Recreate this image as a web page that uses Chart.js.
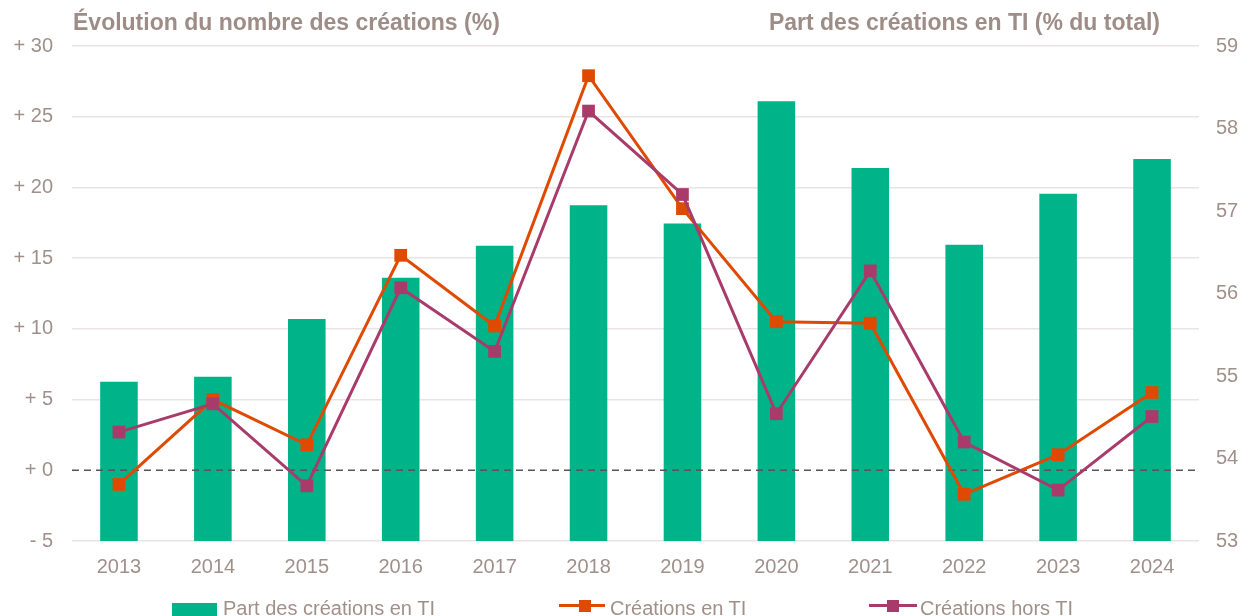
<!DOCTYPE html>
<html>
<head>
<meta charset="utf-8">
<script src="https://cdn.jsdelivr.net/npm/chart.js@4.4.0/dist/chart.umd.min.js"></script>
<style>
  body { margin: 0; background: #fff; font-family: "Liberation Sans", Arial, sans-serif; }
  #wrap { position: relative; width: 1244px; height: 616px; overflow: hidden; }
  #chart { position: absolute; left: 0; top: 0; }
  .ttl { position: absolute; top: 8px; font-weight: bold; font-size: 23px; line-height: 28px; color: #9E8C86; white-space: nowrap; }
  .lg { position: absolute; top: 598px; font-size: 20px; line-height: 20px; color: #A0908A; white-space: nowrap; }
  .mk { position: absolute; }
</style>
</head>
<body>
<div id="wrap">
  <canvas id="chart" width="1244" height="616"></canvas>
  <div class="ttl" style="left:73px">Évolution du nombre des créations (%)</div>
  <div class="ttl" style="right:84px">Part des créations en TI (% du total)</div>

  <div class="mk" style="left:172px;top:603px;width:45px;height:13px;background:#00B388"></div>
  <div class="lg" style="left:223px">Part des créations en TI</div>

  <div class="mk" style="left:559px;top:604px;width:46px;height:3px;background:#DF4A00"></div>
  <div class="mk" style="left:579px;top:600px;width:12px;height:12px;background:#DF4A00"></div>
  <div class="lg" style="left:610px">Créations en TI</div>

  <div class="mk" style="left:869px;top:604px;width:48px;height:3px;background:#A93B6B"></div>
  <div class="mk" style="left:887px;top:600px;width:12px;height:12px;background:#A93B6B"></div>
  <div class="lg" style="left:920px">Créations hors TI</div>
</div>
<script>
  const years = ['2013', '2014', '2015', '2016', '2017', '2018', '2019', '2020', '2021', '2022', '2023', '2024'];
  const partTI = [54.93, 54.99, 55.69, 56.19, 56.58, 57.07, 56.85, 58.33, 57.52, 56.59, 57.21, 57.63];
  const creationsTI = [-1.0, 5.0, 1.8, 15.2, 10.2, 27.9, 18.5, 10.5, 10.4, -1.7, 1.1, 5.5];
  const creationsHorsTI = [2.7, 4.7, -1.1, 12.9, 8.4, 25.4, 19.5, 4.0, 14.1, 2.0, -1.4, 3.8];

  const textColor = '#A0908A';
  const gridColor = '#E9E3E3';

  Chart.defaults.font.family = '"Liberation Sans", Arial, sans-serif';
  Chart.defaults.font.size = 20;
  Chart.defaults.color = textColor;

  // dashed line at 0, drawn over the bars but under the lines
  const zeroLine = {
    id: 'zeroLine',
    afterDatasetDraw(chart, args) {
      if (args.index !== 0) return;
      const { ctx, chartArea } = chart;
      const y = chart.scales.y.getPixelForValue(0);
      ctx.save();
      ctx.strokeStyle = '#5E5252';
      ctx.lineWidth = 1.5;
      ctx.setLineDash([7, 5]);
      ctx.beginPath();
      ctx.moveTo(chartArea.left, y);
      ctx.lineTo(chartArea.right, y);
      ctx.stroke();
      ctx.restore();
    }
  };

  const signed = v => (v < 0 ? '- ' : '+ ') + Math.abs(v);

  new Chart(document.getElementById('chart').getContext('2d'), {
    type: 'bar',
    data: {
      labels: years,
      datasets: [
        {
          type: 'bar', label: 'Part des créations en TI', data: partTI, yAxisID: 'y1',
          backgroundColor: '#00B388', barPercentage: 1, categoryPercentage: 0.4, order: 3
        },
        {
          type: 'line', label: 'Créations en TI', data: creationsTI, yAxisID: 'y',
          borderColor: '#DF4A00', backgroundColor: '#DF4A00', borderWidth: 3,
          pointStyle: 'rect', pointRadius: 9, pointBorderWidth: 0, tension: 0, order: 2
        },
        {
          type: 'line', label: 'Créations hors TI', data: creationsHorsTI, yAxisID: 'y',
          borderColor: '#A93B6B', backgroundColor: '#A93B6B', borderWidth: 3,
          pointStyle: 'rect', pointRadius: 9, pointBorderWidth: 0, tension: 0, order: 1
        }
      ]
    },
    options: {
      responsive: false,
      animation: false,
      layout: { padding: { top: 46, bottom: 35, left: 0, right: 0 } },
      plugins: { legend: { display: false }, tooltip: { enabled: false } },
      scales: {
        x: {
          grid: { display: false },
          border: { display: false },
          ticks: { padding: 6 },
          afterFit: s => { s.height = 40; }
        },
        y: {
          position: 'left', min: -5, max: 30,
          ticks: { stepSize: 5, padding: 19, callback: signed },
          grid: { color: c => (c.tick && c.tick.value === 0 ? 'rgba(0,0,0,0)' : gridColor), lineWidth: 1.5, drawTicks: false },
          border: { display: false },
          afterFit: s => { s.width = 72; }
        },
        y1: {
          position: 'right', min: 53, max: 59,
          ticks: { stepSize: 1, padding: 9 },
          grid: { display: false },
          border: { display: false },
          afterFit: s => { s.width = 45; }
        }
      }
    },
    plugins: [zeroLine]
  });
</script>
</body>
</html>
